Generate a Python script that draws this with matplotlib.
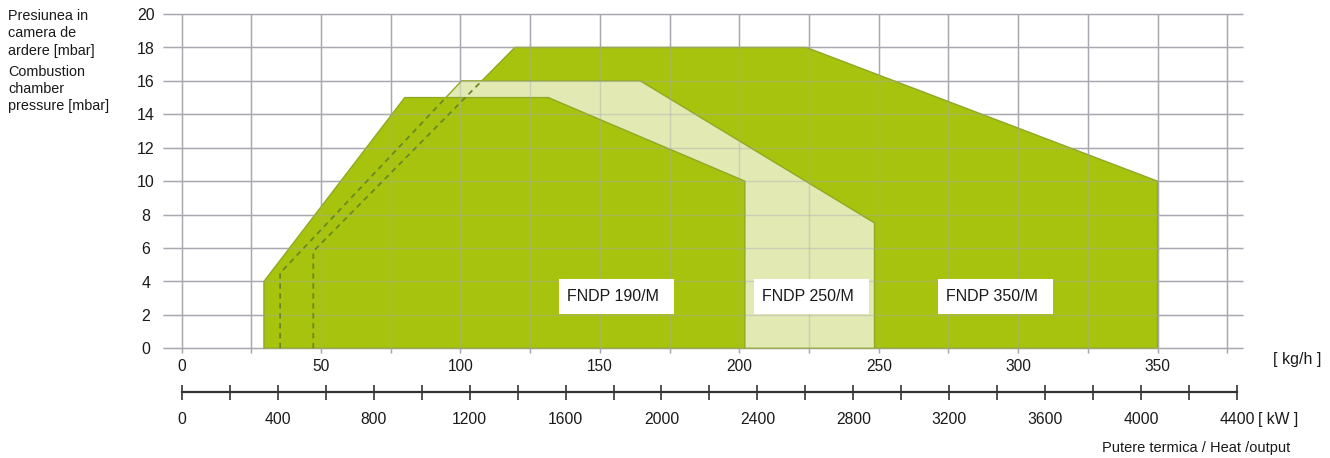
import numpy as np
import matplotlib
matplotlib.use('Agg')
import matplotlib.pyplot as plt
from matplotlib.patches import Polygon, Rectangle
from matplotlib.ticker import FixedLocator

plt.rcParams['font.family'] = ['Liberation Sans', 'DejaVu Sans']

# ---------------- data ----------------
kgh_ticks = [0, 50, 100, 150, 200, 250, 300, 350]
kgh_grid = [0, 25, 50, 75, 100, 125, 150, 175, 200, 225, 250, 275, 300, 325, 350, 375]
pressure_ticks = [0, 2, 4, 6, 8, 10, 12, 14, 16, 18, 20]
kw_ticks = [0, 400, 800, 1200, 1600, 2000, 2400, 2800, 3200, 3600, 4000, 4400]
kw_minor = [200, 600, 1000, 1400, 1800, 2200, 2600, 3000, 3400, 3800, 4200]
KW_PER_KGH = 4400 / 378.6

# working fields (kg/h, mbar)
fndp190_x = [29.5, 29.5, 80.0, 131.5, 202.0, 202.0]
fndp190_y = [0, 4.0, 15.0, 15.0, 10.0, 0]
fndp250_x = [35.3, 35.3, 100.4, 164.5, 248.5, 248.5]
fndp250_y = [0, 4.5, 16.0, 16.0, 7.5, 0]
fndp350_x = [47.2, 47.2, 119.5, 224.0, 350.0, 350.0]
fndp350_y = [0, 5.8, 18.0, 18.0, 10.0, 0]

model_labels = ['FNDP 190/M', 'FNDP 250/M', 'FNDP 350/M']

# ---------------- styles ----------------
DARK = '#a7c30e'
LIGHT = '#e2e9b3'
EDGE = '#8eaa22'
GRID = '#a9a9b1'
DASH = '#6a8824'
TXT = '#1a1a1a'

W, H = 1330, 458
fig = plt.figure(figsize=(W / 100, H / 100), dpi=100)

X0PX, SX = 181.7, 2.788
Y0PX, SY = 348.3, 16.715
xlim = (-7.0, 382.0)
ylim = (-0.6, 20.5)
lpx = X0PX + xlim[0] * SX
rpx = X0PX + xlim[1] * SX
tpx = Y0PX - ylim[1] * SY
bpx = Y0PX - ylim[0] * SY
ax = fig.add_axes([lpx / W, 1 - bpx / H, (rpx - lpx) / W, (bpx - tpx) / H])
ax.set_xlim(xlim)
ax.set_ylim(ylim)
ax.axis('off')


def draw_grid(alpha, z):
    ax.hlines(pressure_ticks, -6.6, 380.7, color=GRID, lw=1.0, alpha=alpha, zorder=z)
    ax.vlines(kgh_grid, -0.27, 20.0, color=GRID, lw=1.0, alpha=alpha, zorder=z)


draw_grid(1.0, 0)

for xs, ys, fc, z in [(fndp350_x, fndp350_y, DARK, 1),
                      (fndp250_x, fndp250_y, LIGHT, 2),
                      (fndp190_x, fndp190_y, DARK, 3)]:
    ax.add_patch(Polygon(np.column_stack([xs, ys]), closed=True, fc=fc,
                         ec=EDGE, lw=1.0, zorder=z))

draw_grid(0.4, 4)

# hidden left edges (dashed)
cut250 = fndp190_y[2]
x_cut250 = np.interp(cut250, [fndp250_y[1], fndp250_y[2]], [fndp250_x[1], fndp250_x[2]])
ax.plot([fndp250_x[0], fndp250_x[1], x_cut250], [fndp250_y[0], fndp250_y[1], cut250],
        color=DASH, lw=1.3, ls=(0, (3.0, 2.5)), zorder=5)
cut350 = fndp250_y[2]
x_cut350 = np.interp(cut350, [fndp350_y[1], fndp350_y[2]], [fndp350_x[1], fndp350_x[2]])
ax.plot([fndp350_x[0], fndp350_x[1], x_cut350], [fndp350_y[0], fndp350_y[1], cut350],
        color=DASH, lw=1.3, ls=(0, (3.0, 2.5)), zorder=5)

# model label boxes
for lab, lx in zip(model_labels, [135.3, 205.4, 271.4]):
    ax.add_patch(Rectangle((lx, 2.05), 41.2, 2.07, fc='white', ec='none', zorder=6))
    ax.text(lx + 2.8, 3.08, lab, fontsize=11.5, color=TXT, ha='left', va='center', zorder=7)

# y labels
for v in pressure_ticks:
    ax.text(-12.8, v - 0.1, str(v), fontsize=11.5, color=TXT, ha='center', va='center', clip_on=False)

# kg/h labels
for v in kgh_ticks:
    ax.text(v, -1.1, str(v), fontsize=11.2, color=TXT, ha='center', va='center', clip_on=False)
ax.text((1273 - X0PX) / SX, (Y0PX - 359.3) / SY, '[ kg/h ]', fontsize=11.5, color=TXT,
        ha='left', va='center', clip_on=False)

# kW axis
line_px = 391.7
ax2 = fig.add_axes([lpx / W, 1 - line_px / H, (rpx - lpx) / W, 0.0001])
ax2.set_xlim(xlim[0] * KW_PER_KGH, xlim[1] * KW_PER_KGH)
ax2.patch.set_visible(False)
for s in ['top', 'left', 'right']:
    ax2.spines[s].set_visible(False)
ax2.spines['bottom'].set_bounds(kw_ticks[0], kw_ticks[-1])
ax2.spines['bottom'].set_color('#333333')
ax2.spines['bottom'].set_linewidth(1.6)
ax2.set_yticks([])
ax2.xaxis.set_major_locator(FixedLocator(kw_ticks))
ax2.xaxis.set_minor_locator(FixedLocator(kw_minor))
ax2.set_xticklabels([str(v) for v in kw_ticks])
ax2.tick_params(axis='x', which='both', direction='inout', length=10.8, width=1.2,
                color='#333333', labelsize=11.3, labelcolor=TXT, pad=9.0)
ax.text((1258 - X0PX) / SX, (Y0PX - 419.5) / SY, '[ kW ]', fontsize=11.3, color=TXT,
        ha='left', va='center', clip_on=False)

ax.text((1101.7 - X0PX) / SX, (Y0PX - 448.3) / SY, 'Putere termica / Heat /output',
        fontsize=10.5, color=TXT, ha='left', va='center', clip_on=False)

fig.text(8.5 / W, 1 - 33.3 / H, 'Presiunea in\ncamera de\nardere [mbar]', fontsize=10.4,
         color=TXT, ha='left', va='center', linespacing=1.3)
fig.text(8.5 / W, 1 - 88.8 / H, 'Combustion\nchamber\npressure [mbar]', fontsize=10.4,
         color=TXT, ha='left', va='center', linespacing=1.3)

fig.savefig('out.png', dpi=100, facecolor='white')
